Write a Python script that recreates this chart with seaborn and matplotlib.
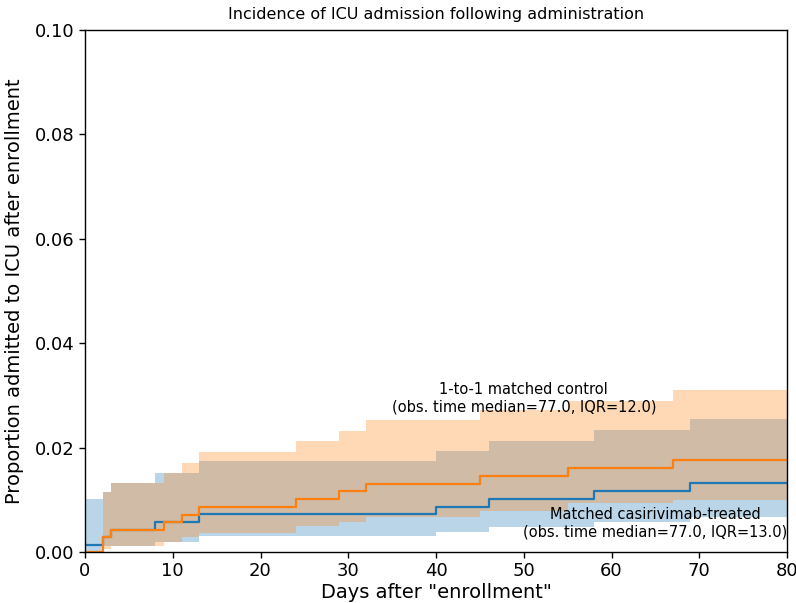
import numpy as np
import pandas as pd
import matplotlib
matplotlib.use("Agg")
import matplotlib.pyplot as plt
import seaborn as sns

# ---- data ----
# Matched casirivimab-treated (blue)
treat_days = [0, 2, 3, 8, 13, 40, 46, 58, 69, 80]
treat_val = [0.0013, 0.0029, 0.0042, 0.0057, 0.0072, 0.0087, 0.0102, 0.0117, 0.0132, 0.0132]
treat_ci_days = [0, 2, 3, 8, 13, 40, 46, 58, 69, 80]
treat_lo = [0.0001, 0.0011, 0.0011, 0.0020, 0.0031, 0.0039, 0.0048, 0.0058, 0.0068, 0.0068]
treat_hi = [0.0101, 0.0114, 0.0133, 0.0152, 0.0174, 0.0193, 0.0213, 0.0233, 0.0254, 0.0254]

# 1-to-1 matched control (orange)
ctrl_days = [0, 2, 3, 9, 11, 13, 24, 29, 32, 45, 55, 67, 80]
ctrl_val = [0.0, 0.0029, 0.0042, 0.0057, 0.0071, 0.0087, 0.0101, 0.0116, 0.0131, 0.0146, 0.0160, 0.0176, 0.0176]
ctrl_lo = [0.0, 0.0006, 0.0011, 0.0020, 0.0029, 0.0037, 0.0049, 0.0057, 0.0068, 0.0079, 0.0094, 0.0100, 0.0100]
ctrl_hi = [0.0, 0.0114, 0.0133, 0.0152, 0.0171, 0.0192, 0.0213, 0.0232, 0.0253, 0.0272, 0.0290, 0.0310, 0.0310]

x_ticks = [0, 10, 20, 30, 40, 50, 60, 70, 80]
y_ticks = [0.00, 0.02, 0.04, 0.06, 0.08, 0.10]

title = "Incidence of ICU admission following administration"
xlabel = 'Days after "enrollment"'
ylabel = "Proportion admitted to ICU after enrollment"
ctrl_label = "1-to-1 matched control\n(obs. time median=77.0, IQR=12.0)"
treat_label = "Matched casirivimab-treated\n(obs. time median=77.0, IQR=13.0)"

BLUE = "#1f77b4"
ORANGE = "#ff7f0e"

sns.set_style("ticks")
plt.rcParams['font.family'] = ['DejaVu Sans']
plt.rcParams['text.color'] = 'black'
plt.rcParams['axes.labelcolor'] = 'black'
plt.rcParams['xtick.color'] = 'black'
plt.rcParams['ytick.color'] = 'black'

fig = plt.figure(figsize=(7.96, 6.03), dpi=100)
ax = fig.add_axes([85 / 796, 51 / 603, 702 / 796, 522 / 603])

df_t = pd.DataFrame({"day": treat_days, "val": treat_val})
df_c = pd.DataFrame({"day": ctrl_days, "val": ctrl_val})

sns.lineplot(data=df_t, x="day", y="val", ax=ax, color=BLUE, lw=1.6,
             drawstyle="steps-post", errorbar=None, estimator=None)
ax.fill_between(treat_ci_days, treat_lo, treat_hi, step="post",
                color=BLUE, alpha=0.3, lw=0)
sns.lineplot(data=df_c, x="day", y="val", ax=ax, color=ORANGE, lw=1.6,
             drawstyle="steps-post", errorbar=None, estimator=None)
ax.fill_between(ctrl_days, ctrl_lo, ctrl_hi, step="post",
                color=ORANGE, alpha=0.3, lw=0)

ax.set_xlim(0, 80)
ax.set_ylim(0, 0.10)
ax.set_xticks(x_ticks)
ax.set_yticks(y_ticks)
ax.set_yticklabels([f"{v:.2f}" for v in y_ticks])
ax.tick_params(labelsize=13, length=4, width=1, colors="black")
for s in ax.spines.values():
    s.set_color("black")
    s.set_linewidth(1.0)

ax.set_xlabel(xlabel, fontsize=14, labelpad=2, color="black")
ax.set_ylabel(ylabel, fontsize=14, labelpad=8, color="black")
ax.set_title(title, fontsize=11.5, pad=8, color="black")

ax.text(50, 0.0294, ctrl_label, ha="center", va="center", fontsize=10.5, color="black")
ax.text(65, 0.00546, treat_label, ha="center", va="center", fontsize=10.5, color="black")

fig.savefig("out.png", dpi=100)
